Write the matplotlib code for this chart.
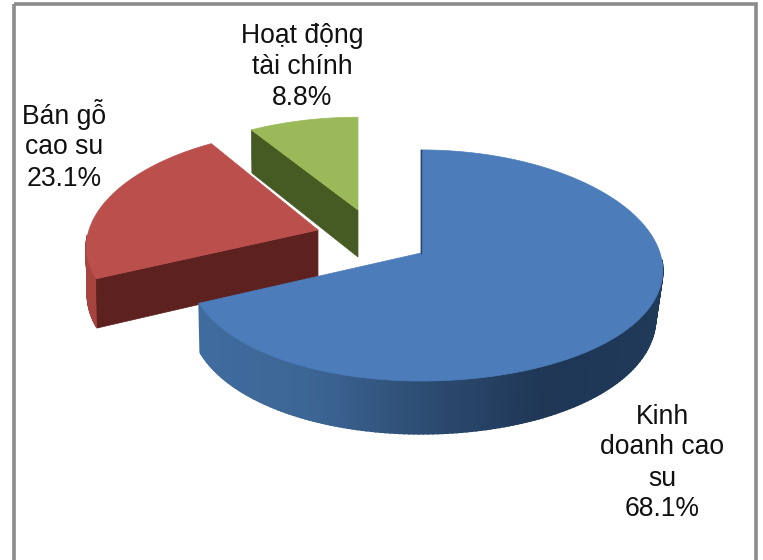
import numpy as np
import matplotlib
matplotlib.use("Agg")
import matplotlib.pyplot as plt
from matplotlib.patches import Rectangle

categories = ["Kinh\ndoanh cao\nsu", "Bán gỗ\ncao su", "Hoạt động\ntài chính"]
shares = [68.1, 23.1, 8.8]

top_colors = ["#4c7dba", "#bb4f4c", "#9aba59"]
cut_colors = ["#28466b", "#5d211f", "#465a24"]
wall_colors = [["#3f6c9e", "#3c6594", "#2c4b70", "#1f3655", "#203a5a"],
               ["#a8443f"] * 5, ["#6f8a3f"] * 5]

# Projection of the pie disc onto the page (page pixels, y downwards)
CENTER = (421.0, 253.0)
OFFSETS = [(0, 0), (-103, -23), (-63, -43)]
Y_SCALE = [1.0, 0.97, 0.90]         # wedges pulled further back look flatter
RX_LEFT, RX_RIGHT, RY = 229.0, 239.0, 114.2
KX, KY = 0.15, 0.108
DEPTH = 47.0
LABEL_POS = [(662, 463), (64, 145), (302, 67)]


def project(theta, radius, apex, y_scale=1.0, drop=0.0):
    """theta runs clockwise from 12 o'clock; drop moves towards the underside."""
    X = radius * np.sin(theta)
    Y = -radius * np.cos(theta)          # positive towards the viewer
    wx, wy = 1 / (1 - KX * Y), 1 / (1 - KY * Y)
    rx = np.where(X < 0, RX_LEFT, RX_RIGHT)
    shrink = np.where(X < 0, 1 - 0.005 * drop, 1 - 0.03 * drop)
    return (apex[0] + rx * X * wx * shrink,
            apex[1] + y_scale * RY * Y * wy + drop * DEPTH * wy)


fig = plt.figure(figsize=(7.63, 5.6), dpi=100)
ax = fig.add_axes([0, 0, 1, 1])
ax.set_xlim(0, 763)
ax.set_ylim(560, 0)
ax.axis("off")
ax.add_patch(Rectangle((13.5, 3.5), 742, 600, fill=False, ec="#8b8b8b", lw=2.6))

edges = np.cumsum([0] + shares) / sum(shares) * 2 * np.pi
draw_order = [2, 1, 0]
stops = np.linspace(0, 1, 5)
for z, i in enumerate(draw_order):
    apex = (CENTER[0] + OFFSETS[i][0], CENTER[1] + OFFSETS[i][1])
    zo = 2 + z
    ys = Y_SCALE[i]
    t = np.linspace(edges[i], edges[i + 1], 240)
    xt, yt = project(t, 1.0, apex, ys)
    xb, yb = project(t, 1.0, apex, ys, 1.0)

    # Outer wall, shaded strip by strip along the page x direction
    rgb = np.array([matplotlib.colors.to_rgb(c) for c in wall_colors[i]])
    span = (200.0, 663.0)
    for j in range(len(t) - 1):
        if np.cos(t[j]) > -0.05:      # far side of the disc stays hidden
            continue
        u = (0.5 * (xt[j] + xt[j + 1]) - span[0]) / (span[1] - span[0])
        col = [np.interp(np.clip(u, 0, 1), stops, rgb[:, c]) for c in range(3)]
        ax.fill([xt[j], xt[j + 1], xb[j + 1], xb[j]],
                [yt[j], yt[j + 1], yb[j + 1], yb[j]],
                color=col, lw=1.3, zorder=zo)

    # Cut faces that look towards the viewer
    ax0, ay0 = project(np.array(edges[i]), 0.0, apex, ys)
    ax1, ay1 = project(np.array(edges[i]), 0.0, apex, ys, 1.0)
    if i in (1, 2):
        ax.fill([ax0, xt[0], xb[0], ax1], [ay0, yt[0], yb[0], ay1],
                color=cut_colors[i], lw=0.5, zorder=zo)

    # Top face
    ax.fill(np.r_[ax0, xt], np.r_[ay0, yt], color=top_colors[i], lw=0.5, zorder=zo + 0.5)
    if i == 0:
        ax.plot([ax0, xt[0]], [ay0, yt[0]], color=cut_colors[0], lw=1.0, zorder=zo + 0.6)

for name, share, (lx, ly) in zip(categories, shares, LABEL_POS):
    ax.text(lx, ly, f"{name}\n{share}%", ha="center", va="center", multialignment="center",
            family="Liberation Sans", fontsize=19.1, color="#111111", linespacing=1.25, zorder=10)

fig.savefig("out.png", dpi=100)
